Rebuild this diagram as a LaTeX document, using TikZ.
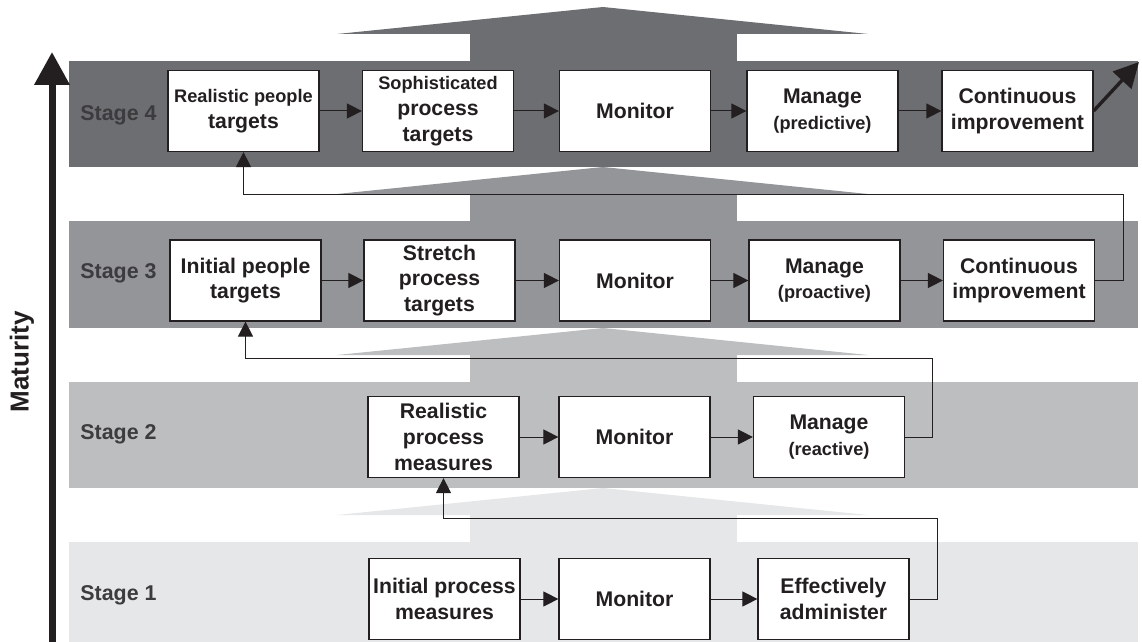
\documentclass[tikz,border=0pt]{standalone}
\usepackage{fontspec}
\setmainfont{Liberation Sans}
\usetikzlibrary{arrows.meta}
\definecolor{ink}{HTML}{231F20}
\definecolor{labelgrey}{HTML}{3C3C3E}
\definecolor{band4}{HTML}{6D6E71}
\definecolor{band3}{HTML}{939598}
\definecolor{band2}{HTML}{BCBEC0}
\definecolor{band1}{HTML}{E6E7E8}
\newcommand{\smalltxt}{\fontsize{9.1}{12.9}\selectfont}
\tikzset{
  stagebox/.style={draw=ink, line width=0.6pt, fill=white, text=ink, align=center,
    minimum width=75.5pt, minimum height=40.5pt, inner sep=1pt,
    font=\bfseries\fontsize{10.6}{12.9}\selectfont},
  stagelabel/.style={text=labelgrey, inner sep=0pt, anchor=west,
    font=\bfseries\fontsize{10.7}{12.9}\selectfont},
  flow/.style={draw=ink, line width=0.5pt, -{Triangle[length=7.5pt,width=7.5pt]}},
}
\begin{document}
\begin{tikzpicture}[x=0.5pt, y=-0.5pt]
    \useasboundingbox (0,0) rectangle (1142,642);
    % stage bands, each with its arrow pointing up
    \fill[band4] (69,61) rectangle (1138,167);
    \fill[band4] (470,34) rectangle (737,61);
    \fill[band4] (337,34) -- (603,7) -- (868,34) -- cycle;
    \fill[band3] (69,221) rectangle (1138,328);
    \fill[band3] (470,194) rectangle (737,221);
    \fill[band3] (337,194) -- (603,167) -- (868,194) -- cycle;
    \fill[band2] (69,382) rectangle (1138,488);
    \fill[band2] (470,355) rectangle (737,382);
    \fill[band2] (337,355) -- (603,328) -- (868,355) -- cycle;
    \fill[band1] (69,542) rectangle (1138,642);
    \fill[band1] (470,515) rectangle (737,542);
    \fill[band1] (337,515) -- (603,488) -- (868,515) -- cycle;
    % maturity axis
    \coordinate (matfoot) at (52,642);
    \coordinate (mattop) at (52,52);
    \draw[ink, line width=3.5pt, -{Triangle[length=16.5pt,width=17pt]}] (matfoot) -- (mattop);
    \node[rotate=90, text=ink, font=\bfseries\fontsize{13}{15}\selectfont] (maturity) at (22,362) {Maturity};
    % stage labels
    \node[stagelabel] (s4) at (80,115) {Stage 4};
    \node[stagelabel] (s3) at (80,273) {Stage 3};
    \node[stagelabel] (s2) at (80,434) {Stage 2};
    \node[stagelabel] (s1) at (80,595) {Stage 1};
    % stage 4
    \node[stagebox] (r4a) at (243.5,111) {{\smalltxt Realistic people}\\targets};
    \node[stagebox] (r4b) at (438,111) {{\smalltxt Sophisticated}\\process\\targets};
    \node[stagebox] (r4c) at (635,111) {Monitor};
    \node[stagebox] (r4d) at (822.5,111) {Manage\\{\smalltxt (predictive)}};
    \node[stagebox] (r4e) at (1017.5,111) {Continuous\\improvement};
    % stage 3
    \node[stagebox] (r3a) at (245.5,280.5) {Initial people\\targets};
    \node[stagebox] (r3b) at (439.5,280.5) {Stretch\\process\\targets};
    \node[stagebox] (r3c) at (635,280.5) {Monitor};
    \node[stagebox] (r3d) at (824.5,280.5) {Manage\\{\smalltxt (proactive)}};
    \node[stagebox] (r3e) at (1019,280.5) {Continuous\\improvement};
    % stage 2
    \node[stagebox] (r2a) at (443.5,437) {Realistic\\process\\measures};
    \node[stagebox] (r2b) at (634.5,437) {Monitor};
    \node[stagebox] (r2c) at (829,437) {Manage\\{\smalltxt (reactive)}};
    % stage 1
    \node[stagebox] (r1a) at (444.5,599) {Initial process\\measures};
    \node[stagebox] (r1b) at (634.5,599) {Monitor};
    \node[stagebox] (r1c) at (833.5,599) {Effectively\\administer};
    % flow within each stage
    \draw[flow] (r4a) -- (r4b);
    \draw[flow] (r4b) -- (r4c);
    \draw[flow] (r4c) -- (r4d);
    \draw[flow] (r4d) -- (r4e);
    \draw[flow] (r3a) -- (r3b);
    \draw[flow] (r3b) -- (r3c);
    \draw[flow] (r3c) -- (r3d);
    \draw[flow] (r3d) -- (r3e);
    \draw[flow] (r2a) -- (r2b);
    \draw[flow] (r2b) -- (r2c);
    \draw[flow] (r1a) -- (r1b);
    \draw[flow] (r1b) -- (r1c);
    % feedback to the next stage
    \coordinate (fb1) at (937,518);
    \coordinate (fb2) at (932,358);
    \coordinate (fb3) at (1123,195);
    \draw[flow] (r1c.east) -| (fb1) -| (r2a.south);
    \draw[flow] (r2c.east) -| (fb2) -| (r3a.south);
    \draw[flow] (r3e.east) -| (fb3) -| (r4a.south);
    \coordinate (beyond) at (1139,62);
    \draw[ink, line width=1.7pt, -{Triangle[length=12.5pt,width=12.5pt]}] (r4e.east) -- (beyond);
\end{tikzpicture}
\end{document}
